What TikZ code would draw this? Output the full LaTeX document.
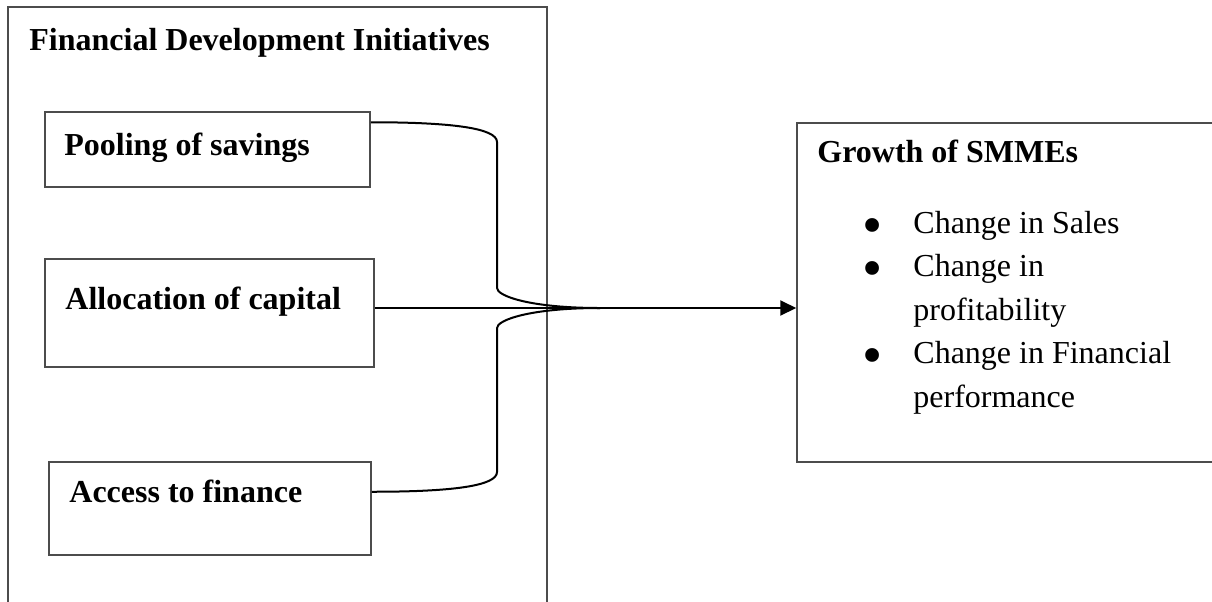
\documentclass[tikz,border=0pt]{standalone}
\usepackage{fontspec}
\setmainfont{Liberation Serif}
\usetikzlibrary{fit,arrows.meta}

\newcommand{\bigbullet}{\llap{\raisebox{-5.5pt}{\scalebox{1.8}{\textbullet}}\hspace{15.25pt}}}

\begin{document}
\begin{tikzpicture}[x=0.5pt,y=-0.5pt,
	box/.style={draw=black!70,line width=0.75pt,inner sep=0pt},
	title/.style={font=\fontsize{16pt}{21.75pt}\selectfont\bfseries,inner sep=0pt,anchor=base west},
	item/.style={font=\fontsize{16pt}{21.75pt}\selectfont,inner sep=0pt,anchor=base west,align=left},
	link/.style={line width=1pt}]
		\useasboundingbox (0,0) rectangle (1212,601);

		% left panel
		\node[box,fit={(8,7) (547,640)}] (fdi) {};
		\node[title] (fdi-title) at (29,50) {Financial Development Initiatives};

		\node[box,fit={(45,112) (370,187)}] (pool) {};
		\node[title] (pool-text) at (64,155) {Pooling of savings};

		\node[box,fit={(45,259) (374,367)}] (alloc) {};
		\node[title] (alloc-text) at (65,309) {Allocation of capital};

		\node[box,fit={(49,462) (371,555)}] (access) {};
		\node[title] (access-text) at (69,502) {Access to finance};

		% right panel
		\node[box,fit={(797,123) (1216,462)}] (growth) {};
		\node[title] (growth-title) at (817,162) {Growth of SMMEs};
		\node[item] (growth-list) at (913,407) {%
			\bigbullet Change in Sales\\
			\bigbullet Change in\\
			profitability\\
			\bigbullet Change in Financial\\
			performance};

		\coordinate (join) at (600,308);

		\draw[link] ([yshift=-5.5pt]pool.north east)
			.. controls +(80,0) and +(0,-14) .. (497,142)
			-- (497,288)
			.. controls +(0,8) and +(-70,0) .. (join);
		\draw[link] ([yshift=32pt]access.south east)
			.. controls +(80,0) and +(0,14) .. (497,472)
			-- (497,328)
			.. controls +(0,-8) and +(-70,0) .. (join);
		\draw[link,-{Triangle[length=8pt,width=7.5pt]}] (alloc.east |- join) -- (growth.west |- join);

	\end{tikzpicture}
\end{document}
